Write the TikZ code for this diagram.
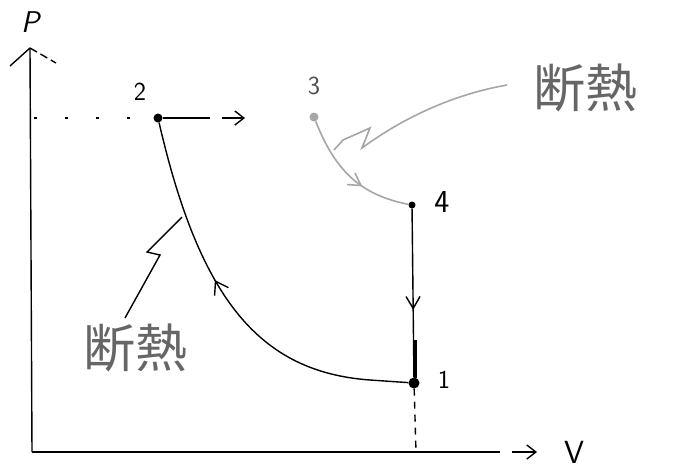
\documentclass[tikz,border=0pt]{standalone}
\usepackage{fontspec}
\newfontfamily\cjk{Noto Sans CJK JP}
\usetikzlibrary{arrows.meta,decorations.markings}
\begin{document}
\begin{tikzpicture}[x=1pt,y=-1pt,
  ln/.style={line width=1.4pt,black},
  gr/.style={line width=1.6pt,gray!70},
  pt/.style={circle,fill=black,inner sep=0pt,minimum size=9pt},
  gpt/.style={circle,fill=gray!70,inner sep=0pt,minimum size=9pt},
  lbl/.style={font=\fontsize{26}{26}\selectfont\sffamily,inner sep=0pt},
  jlbl/.style={font=\cjk\fontsize{52}{52}\selectfont,inner sep=0pt,text=black!60,anchor=west},
  tip/.style={-{Straight Barb[length=9pt,width=14pt]}}
]
\useasboundingbox (0,0) rectangle (677,475);
% axes
\coordinate (O) at (32,452);
\coordinate (Ytop) at (30,48);
\coordinate (Xend) at (500,452);
\coordinate (Xtip) at (537,452);
\draw[ln] (O) -- (Ytop);
\draw[ln] (10,66) -- (Ytop);
\draw[ln,dashed,dash pattern=on 8pt off 4pt] (Ytop) -- (56,63);
\draw[ln] (O) -- (Xend);
\draw[ln,tip] (Xend) ++(12,0) -- (Xtip);
\node[lbl,font=\fontsize{30}{30}\selectfont\sffamily\itshape] (P) at (30,22) {P};
\node[lbl,font=\fontsize{32}{32}\selectfont\sffamily] (V) at (574,452) {V};
% points
\node[pt] (n2) at (158,118) {};
\node[gpt] (n3) at (314,117) {};
\node[pt,minimum size=7pt] (n4) at (412,205) {};
\node[pt,minimum size=11pt] (n1) at (414,383) {};
\node[lbl] (l2) at (140,92) {2};
\node[lbl,text=black!70] (l3) at (314,86) {3};
\node[lbl,font=\fontsize{32}{32}\selectfont\sffamily] (l4) at (442,202) {4};
\node[lbl] (l1) at (444,380) {1};
% dotted guide lines
\coordinate (y2) at (34,118);
\draw[ln,dashed,dash pattern=on 3pt off 28pt] (y2) -- (n2);
\coordinate (x1) at (416,452);
\draw[ln,dashed,dash pattern=on 7pt off 6pt] (n1) -- (x1);
% arrow from 2 to the right
\coordinate (a2) at (210,118);
\coordinate (a2t) at (245,118);
\draw[ln] (n2) -- (a2);
\draw[ln,tip] (a2) ++(12,0) -- (a2t);
% process 1 -> 2
\draw[ln,decoration={markings,mark=at position 0.58 with {\arrow{Straight Barb[length=12pt,width=16pt,line width=1.4pt]}}},postaction={decorate}]
  (n1) -- (370,380) .. controls (260,372) and (200,300) .. (n2);
% process 4 -> 1
\draw[ln,decoration={markings,mark=at position 0.6 with {\arrow{Straight Barb[length=12pt,width=14pt,line width=1.4pt]}}},postaction={decorate}]
  (n4) -- (n1);
\draw[line width=3pt] (415,340) -- (415,378);
% process 3 -> 4
\draw[gr,decoration={markings,mark=at position 0.62 with {\arrow{Straight Barb[length=12pt,width=14pt,line width=1.6pt]}}},postaction={decorate}]
  (n3) .. controls (335,170) and (360,195) .. (n4);
% labels and leaders
\node[jlbl] (j1) at (533,88) {断熱};
\node[jlbl] (j2) at (83,348) {断熱};
\coordinate (g1) at (507,85);
\draw[gr] (g1) .. controls (450,95) and (400,120) .. (362,148) -- (370,128) -- (343,140) -- (334,150);
\coordinate (g2) at (125,318);
\draw[ln] (g2) -- (160,255) -- (147,252) -- (182,217);
\end{tikzpicture}
\end{document}
